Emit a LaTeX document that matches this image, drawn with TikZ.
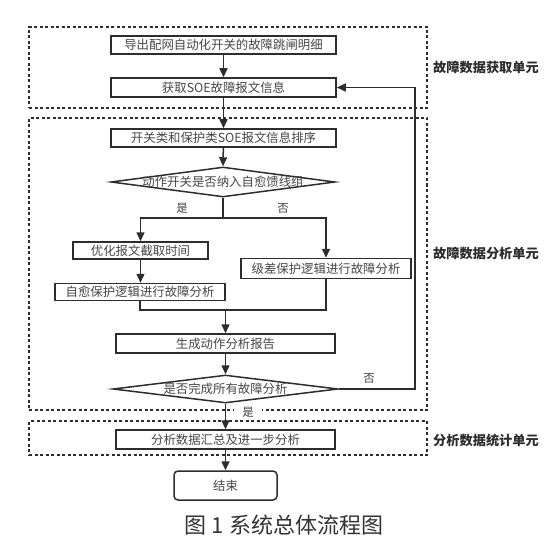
\documentclass[tikz,border=0pt]{standalone}
\usepackage{fontspec}
\setmainfont{Noto Sans CJK SC}
\usetikzlibrary{arrows.meta,shapes.geometric}
\definecolor{flowgray}{RGB}{45,45,45}
\tikzset{
  flow step/.style={
    rectangle, draw=flowgray, line width=1.5pt, fill=white,
    text=black!72, inner sep=0pt,
    minimum height=18pt, font=\fontsize{12.4}{14}\selectfont
  },
  flow decision/.style={
    diamond, draw=flowgray, line width=1.5pt, fill=white,
    text=black!72, inner sep=0pt, aspect=7,
    font=\fontsize{12.4}{14}\selectfont
  },
  flow arrow/.style={-{Triangle[length=9pt,width=8pt]}, line width=1.5pt, flowgray},
  flow line/.style={line width=1.5pt, flowgray},
  unit frame/.style={
    rectangle, draw=flowgray, line width=1.3pt,
    dash pattern=on 3pt off 2.5pt, inner sep=0pt
  },
  unit label/.style={font=\fontsize{13.2}{15}\selectfont\bfseries, text=flowgray},
  branch label/.style={font=\fontsize{11.5}{13}\selectfont, text=black!75}
}

\begin{document}
\begin{tikzpicture}[x=1pt, y=-1pt]
    \useasboundingbox (0,0) rectangle (553,537);
    % unit frames
    \node[unit frame, minimum width=398pt, minimum height=81pt] (acqframe) at (228,67.5) {};
    \node[unit frame, minimum width=398pt, minimum height=292pt] (anaframe) at (228,264) {};
    \node[unit frame, minimum width=398pt, minimum height=34pt] (statframe) at (228,438) {};
    \node[unit label] (acqlabel) at (486,67) {故障数据获取单元};
    \node[unit label] (analabel) at (486,253) {故障数据分析单元};
    \node[unit label] (statlabel) at (486,440) {分析数据统计单元};
    % steps
    \node[flow step, minimum width=225pt] (export) at (223.5,45) {导出配网自动化开关的故障跳闸明细};
    \node[flow step, minimum width=225pt, minimum height=19pt] (soe) at (223.5,87.5) {获取SOE故障报文信息};
    \node[flow step, minimum width=225pt] (sort) at (223.5,138) {开关类和保护类SOE报文信息排序};
    \node[flow decision, minimum width=224pt, minimum height=30pt] (selfheal) at (223,182)
      {\makebox[0pt]{动作开关是否纳入自愈馈线组}};
    \node[flow step, minimum width=135pt, minimum height=17pt] (optimize) at (140.5,250.5) {优化报文截取时间};
    \node[flow step, minimum width=170pt, minimum height=20pt] (gradlogic) at (326,268.5) {级差保护逻辑进行故障分析};
    \node[flow step, minimum width=170pt, minimum height=17pt] (heallogic) at (140,292) {自愈保护逻辑进行故障分析};
    \node[flow step, minimum width=219pt, minimum height=19pt] (report) at (225.5,343.5) {生成动作分析报告};
    \node[flow decision, minimum width=225pt, minimum height=28pt] (alldone) at (225.5,389)
      {\makebox[0pt]{\raisebox{-1.5pt}{是否完成所有故障分析}}};
    \node[flow step, minimum width=219pt, minimum height=19pt] (summary) at (225.5,439.5) {分析数据汇总及进一步分析};
    \node[flow step, rounded corners=4pt, minimum width=103pt, minimum height=29pt] (finish) at (225.5,485.5) {结束};
    \node[font=\fontsize{22}{24}\selectfont, text=black!80] (caption) at (284,525)
      {图\hspace{5pt}1\hspace{5pt}系统总体流程图};
    % branch labels
    \node[branch label] (yesleft) at (182,208) {是};
    \node[branch label] (noright) at (283,208) {否};
    \node[branch label] (noloop) at (369,378) {否};
    \node[branch label, fill=white, inner xsep=8pt, inner ysep=1pt] (yesdown) at (248,412) {是};
    % helper points
    \coordinate (split) at (223,218);
    \coordinate (merge) at (225.5,310);
    \coordinate (loop) at (415,389);
    % connectors
    \draw[flow arrow] (export) -- (soe);
    \draw[flow arrow] (soe) -- (sort.north -| soe.south);
    \draw[flow arrow] (sort) -- (selfheal.north);
    \draw[flow line] (selfheal.south) -- (split);
    \draw[flow arrow] (split) -| (optimize.north);
    \draw[flow arrow] (split) -| (gradlogic.north);
    \draw[flow arrow] (optimize.south) -- (heallogic.north -| optimize.south);
    \draw[flow line] (heallogic.south) |- (merge) -| (gradlogic.south);
    \draw[flow arrow] (merge) -- (report.north);
    \draw[flow arrow] (report) -- (alldone.north);
    \draw[flow arrow] (alldone.east) -- (loop) |- (soe.east);
    \draw[flow arrow] (alldone.south) -- (summary.north);
    \draw[flow arrow] (summary) -- (finish);
  \end{tikzpicture}
\end{document}
